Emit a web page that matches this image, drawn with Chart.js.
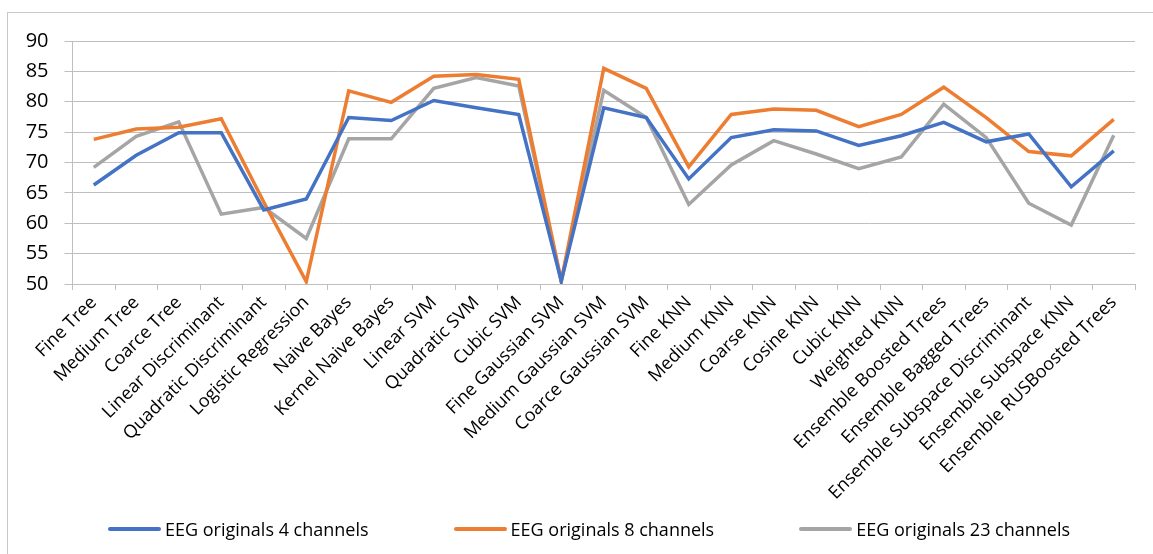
<!DOCTYPE html>
<html>
<head>
<meta charset="utf-8">
<script src="https://cdn.jsdelivr.net/npm/chart.js@4.4.1/dist/chart.umd.min.js"></script>
<style>
  html, body { margin: 0; padding: 0; background: #fff; }
  #wrap { position: relative; width: 1153px; height: 554px; }
  #legend {
    position: absolute; left: 108px; top: 517px;
    font-family: "Open Sans", sans-serif; font-size: 18px; color: #000;
    display: flex; align-items: center; white-space: nowrap;
  }
  #legend .item { display: flex; align-items: center; margin-right: 85px; }
  #legend .mark { display: inline-block; width: 53px; height: 4px; border-radius: 2px; margin-right: 4px; }
</style>
</head>
<body>
<div id="wrap">
  <canvas id="lineChart" width="1153" height="554"></canvas>
  <div id="legend"></div>
</div>
<script>
var classifiers = [
  'Fine Tree', 'Medium Tree', 'Coarce Tree', 'Linear Discriminant', 'Quadratic Discriminant',
  'Logistic Regression', 'Naive Bayes', 'Kernel Naive Bayes', 'Linear SVM', 'Quadratic SVM',
  'Cubic SVM', 'Fine Gaussian SVM', 'Medium Gaussian SVM', 'Coarce Gaussian SVM', 'Fine KNN',
  'Medium KNN', 'Coarse KNN', 'Cosine KNN', 'Cubic KNN', 'Weighted KNN',
  'Ensemble Boosted Trees', 'Ensemble Bagged Trees', 'Ensemble Subspace Discriminant',
  'Ensemble Subspace KNN', 'Ensemble RUSBoosted Trees'
];
var seriesNames = ['EEG originals 4 channels', 'EEG originals 8 channels', 'EEG originals 23 channels'];
var acc4 = [66.3, 71.2, 74.9, 74.9, 62.2, 64.0, 77.4, 76.9, 80.2, 79.0, 77.9, 50.5, 79.0, 77.4, 67.3,
            74.1, 75.4, 75.2, 72.8, 74.4, 76.6, 73.4, 74.7, 66.0, 71.9];
var acc8 = [73.8, 75.5, 75.8, 77.2, 63.5, 50.4, 81.8, 79.9, 84.2, 84.5, 83.7, 50.5, 85.5, 82.2, 69.3,
            77.9, 78.8, 78.6, 75.9, 77.9, 82.4, 77.4, 71.8, 71.1, 77.1];
var acc23 = [69.2, 74.3, 76.7, 61.5, 62.6, 57.5, 73.9, 73.9, 82.2, 84.0, 82.6, 50.4, 81.9, 77.4, 63.1,
             69.6, 73.6, 71.4, 69.0, 70.9, 79.6, 74.1, 63.3, 59.7, 74.5];
var yTicks = [50, 55, 60, 65, 70, 75, 80, 85, 90];
var colors = ['#4472C4', '#ED7D31', '#A5A5A5'];

var gridColor = '#bfbfbf';

// white background and the outer frame
var frame = {
  id: 'frame',
  beforeDraw: function(chart) {
    var c = chart.ctx;
    c.save();
    c.fillStyle = '#fff';
    c.fillRect(0, 0, chart.width, chart.height);
    c.strokeStyle = '#c8c8c8';
    c.lineWidth = 1;
    c.strokeRect(7.5, 12.5, 1300, 700);
    c.restore();
  }
};

function makeSet(i, values) {
  return {
    label: seriesNames[i],
    data: values,
    borderColor: colors[i],
    backgroundColor: colors[i],
    borderWidth: 3.5,
    pointRadius: 0,
    tension: 0,
    fill: false
  };
}

var ctx = document.getElementById('lineChart').getContext('2d');
var lineChart = new Chart(ctx, {
  type: 'line',
  data: {
    labels: classifiers,
    datasets: [makeSet(0, acc4), makeSet(1, acc8), makeSet(2, acc23)]
  },
  options: {
    responsive: false,
    animation: false,
    layout: { padding: { top: 41, right: 18, left: 0, bottom: 0 } },
    plugins: {
      legend: { display: false },
      tooltip: { enabled: false }
    },
    scales: {
      x: {
        offset: true,
        grid: { offset: true, drawOnChartArea: false, color: gridColor, tickLength: 6 },
        border: { display: true, color: gridColor },
        ticks: {
          autoSkip: false, maxRotation: 45, minRotation: 45, padding: 2,
          color: '#000', font: { family: 'Open Sans', size: 18 }
        },
        afterFit: function(scale) { scale.height = 554 - 284; }
      },
      y: {
        min: 50, max: 90,
        afterBuildTicks: function(scale) {
          scale.ticks = yTicks.map(function(v) { return { value: v }; });
        },
        grid: { color: gridColor, tickLength: 8 },
        border: { display: true, color: gridColor },
        ticks: { padding: 16, color: '#000', font: { family: 'Open Sans', size: 20 } },
        afterFit: function(scale) { scale.width = 72.5; }
      }
    }
  },
  plugins: [frame]
});

// legend, one entry per dataset
var html = [];
lineChart.data.datasets.forEach(function(ds) {
  html.push('<span class="item"><span class="mark" style="background:' + ds.borderColor +
            '"></span><span>' + ds.label + '</span></span>');
});
document.getElementById('legend').innerHTML = html.join('');
</script>
</body>
</html>
